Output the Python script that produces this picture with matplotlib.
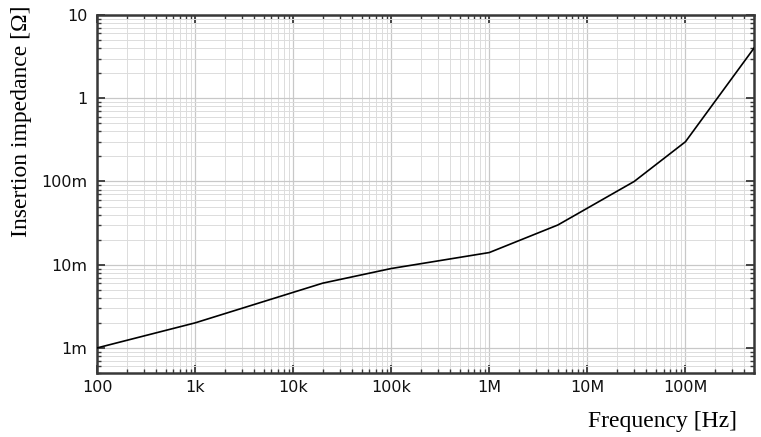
import matplotlib
matplotlib.use("Agg")
import matplotlib.pyplot as plt
from matplotlib.ticker import LogLocator, FixedLocator, FixedFormatter, NullFormatter

freq = [100, 1e3, 2e4, 1e5, 1e6, 5e6, 3e7, 1e8, 5e8]
impedance = [1e-3, 2e-3, 6e-3, 9e-3, 14e-3, 30e-3, 100e-3, 300e-3, 4.0]

xtick_vals = [1e2, 1e3, 1e4, 1e5, 1e6, 1e7, 1e8]
xtick_labels = ["100", "1k", "10k", "100k", "1M", "10M", "100M"]
ytick_vals = [1e-3, 1e-2, 1e-1, 1, 10]
ytick_labels = ["1m", "10m", "100m", "1", "10"]

fig = plt.figure(figsize=(7.61, 4.37), dpi=100)
ax = fig.add_axes([97/761, 1-373/437, (754-97)/761, (373-15)/437])

ax.plot(freq, impedance, color="black", lw=1.2, zorder=3)
ax.set_xscale("log")
ax.set_yscale("log")
ax.set_xlim(100, 5e8)
ax.set_ylim(5e-4, 10)

ax.xaxis.set_major_locator(FixedLocator(xtick_vals))
ax.xaxis.set_major_formatter(FixedFormatter(xtick_labels))
ax.yaxis.set_major_locator(FixedLocator(ytick_vals))
ax.yaxis.set_major_formatter(FixedFormatter(ytick_labels))
ax.xaxis.set_minor_locator(LogLocator(base=10, subs=range(2, 10), numticks=20))
ax.yaxis.set_minor_locator(LogLocator(base=10, subs=range(2, 10), numticks=20))
ax.xaxis.set_minor_formatter(NullFormatter())
ax.yaxis.set_minor_formatter(NullFormatter())

ax.grid(True, which="major", color="#c8c8c8", lw=0.9)
ax.grid(True, which="minor", color="#dcdcdc", lw=0.7)
ax.set_axisbelow(True)

for s in ax.spines.values():
    s.set_color("#383838")
    s.set_linewidth(1.8)

ax.tick_params(which="both", direction="in", top=True, right=True, color="#383838")
ax.tick_params(which="major", length=6, width=1.3, labelsize=11.5)
ax.tick_params(axis="y", which="major", pad=7)
ax.tick_params(axis="x", which="major", pad=5)
ax.tick_params(which="minor", length=3, width=1.0)
for lab in ax.get_xticklabels() + ax.get_yticklabels():
    lab.set_fontfamily("DejaVu Sans")
    lab.set_color("#111111")

fig.text(22/761, 1-121/437, "Insertion impedance [Ω]", rotation=90, ha="center", va="center",
         fontfamily="Liberation Serif", fontsize=17)
fig.text(662/761, 1-421/437, "Frequency [Hz]", ha="center", va="center",
         fontfamily="Liberation Serif", fontsize=17)

fig.savefig("out.png", dpi=100)
